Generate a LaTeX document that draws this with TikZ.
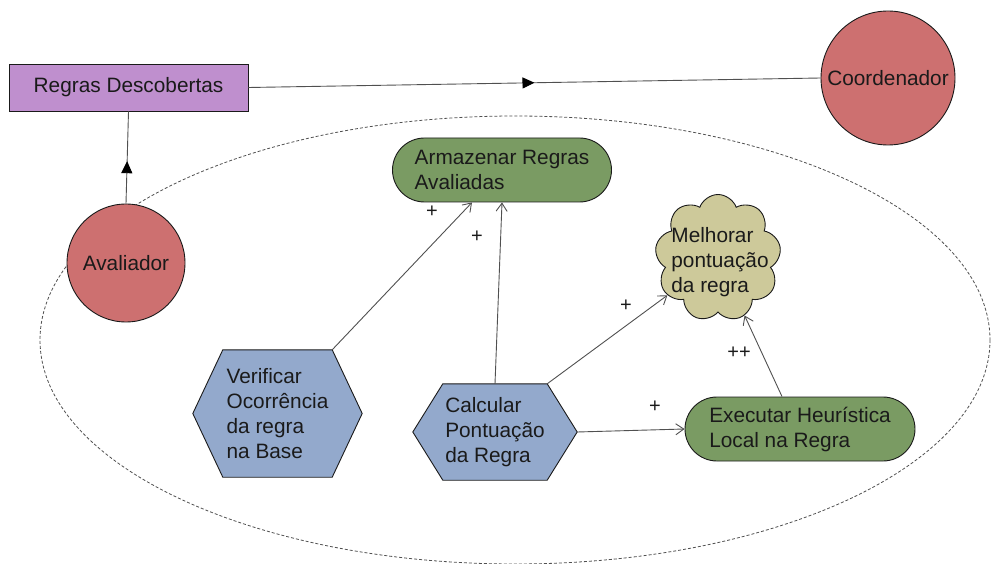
\documentclass[tikz,border=0pt]{standalone}
\usepackage{fontspec}
\setmainfont{Liberation Sans}
\usetikzlibrary{arrows.meta,shapes.symbols,decorations.markings,backgrounds}

\definecolor{boxpurple}{HTML}{BF8FCE}
\definecolor{agentred}{HTML}{CD7070}
\definecolor{taskgreen}{HTML}{7A9B63}
\definecolor{goalkhaki}{HTML}{CDC99A}
\definecolor{hexblue}{HTML}{93A9CC}
\definecolor{linegray}{HTML}{505050}
\definecolor{inkdark}{HTML}{1A1A1A}

\tikzset{
  txt/.style={font=\fontsize{20.8}{25}\selectfont, text=inkdark},
  border/.style={draw=inkdark, line width=0.9pt},
  resourcebox/.style={txt, border, rectangle, fill=boxpurple, minimum width=239pt, minimum height=47pt, inner sep=0pt},
  agent/.style={txt, border, circle, fill=agentred, inner sep=0pt},
  taskbox/.style={txt, border, rectangle, rounded corners=32pt, fill=taskgreen, minimum height=64pt, align=left, inner sep=0pt},
  goalcloud/.style={border, cloud, cloud puffs=9, cloud puff arc=140, aspect=1, fill=goalkhaki, minimum width=126pt, minimum height=127pt, inner sep=0pt},
  hexcore/.style={txt, rectangle, align=left, inner sep=0pt},
  hexshape/.style={border, fill=hexblue},
  boundary/.style={draw=linegray, line width=0.8pt, dash pattern=on 3pt off 2pt},
  link/.style={draw=linegray, line width=0.9pt},
  contrib/.style={link, -{Straight Barb[length=8pt,width=11pt,line width=0.9pt]}},
  midarrow/.style={postaction={decorate}, decoration={markings, mark=at position #1 with {\arrow[black]{Triangle[length=12pt,width=11pt]}}}},
  plus/.style={font=\fontsize{20}{20}\selectfont, text=inkdark, inner sep=0pt},
}

\begin{document}
\begin{tikzpicture}[x=1pt, y=-1pt]
  \useasboundingbox (0,0) rectangle (991,564);

  % actor boundary
  \begin{scope}[on background layer]
    \draw[boundary] (515,340) ellipse [x radius=475, y radius=224];
  \end{scope}

  % outer actors and resource
  \node[resourcebox] (regras) at (128.5,87.5) {Regras Descobertas};
  \node[agent, minimum size=134pt] (coord) at (888,78) {Coordenador};
  \node[agent, minimum size=118pt] (aval) at (126,263) {Avaliador};

  % tasks and goal inside the boundary
  \node[taskbox, minimum width=219pt] (arm) at (502,170)
    {\fontsize{20.8}{28}\selectfont Armazenar Regras\\Avaliadas};
  \node[taskbox, minimum width=230pt] (exe) at (800,429)
    {\fontsize{20.8}{27}\selectfont Executar Heurística\\Local na Regra};
  \node[goalcloud] (melhor) at (718,258) {};
  \node[txt, align=left, inner sep=0pt] (melhortxt) at (720,262)
    {Melhorar\\pontuação\\da regra};

  \node[hexcore, minimum width=109pt, minimum height=127pt] (verif) at (277.5,413.5)
    {\fontsize{20.8}{23.5}\selectfont Verificar\\Ocorrência\\da regra\\na Base};
  \node[hexcore, minimum width=104pt, minimum height=96pt] (calc) at (495,432)
    {\fontsize{20.8}{26}\selectfont Calcular\\Pontuação\\da Regra};

  % hexagon outlines behind the task texts
  \begin{scope}[on background layer]
    \foreach \h in {verif, calc}
      \draw[hexshape] (\h.north west) -- (\h.north east) -- ([xshift=30pt]\h.east)
        -- (\h.south east) -- (\h.south west) -- ([xshift=-30pt]\h.west) -- cycle;
  \end{scope}

  % dependencies
  \draw[link, midarrow=0.5] (regras.east) -- (coord.west);
  \draw[link, midarrow=0.46] (aval.north) -- (regras.south);

  % contributions
  \draw[contrib] (verif.north east) -- ([xshift=-30pt]arm.south);
  \draw[contrib] (calc.north) -- (arm.south);
  \draw[contrib] (calc.north east) -- (melhor);
  \draw[contrib] ([xshift=30pt]calc.east) -- (exe.west);
  \draw[contrib] ([xshift=-18pt]exe.north) -- (melhor);

  \node[plus] (l1) at (432,212) {+};
  \node[plus] (l2) at (477,237) {+};
  \node[plus] (l3) at (626,306) {+};
  \node[plus] (l4) at (739,353) {++};
  \node[plus] (l5) at (655,407) {+};
\end{tikzpicture}
\end{document}
